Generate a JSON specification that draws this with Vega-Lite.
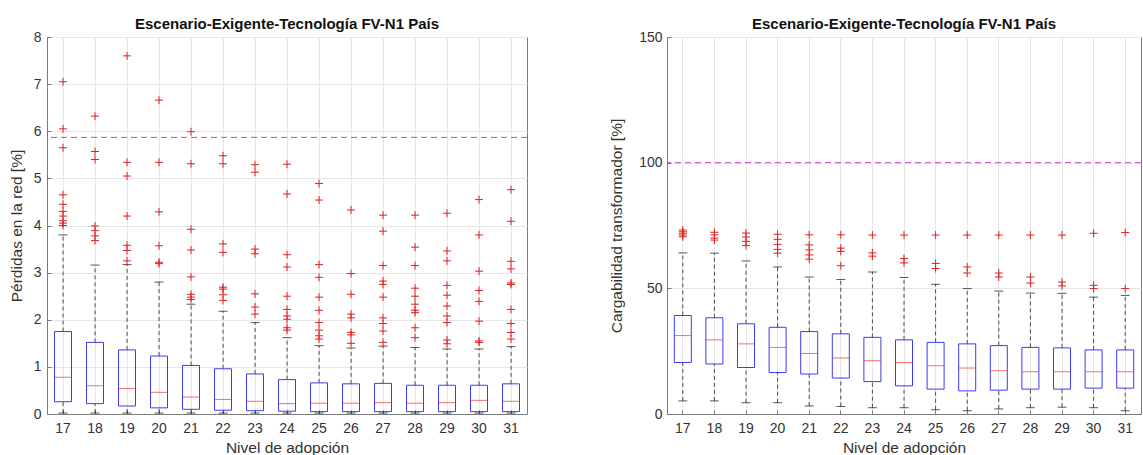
{
  "$schema": "https://vega.github.io/schema/vega-lite/v6.json",
  "padding": {"left": 8, "top": 16, "right": 2, "bottom": 0},
  "bounds": "flush",
  "spacing": 140,
  "config": {
    "font": "Liberation Sans",
    "view": {"stroke": "#7a7a7a", "strokeWidth": 1},
    "axis": {
      "domainColor": "#7a7a7a", "tickColor": "#7a7a7a", "tickSize": -4,
      "labelColor": "#333333", "labelFontSize": 14, "titleFontSize": 15.5,
      "titleFontWeight": "normal", "titleColor": "#333333", "gridColor": "#e6e6e6",
      "labelFont": "Liberation Sans", "titleFont": "Liberation Sans"
    },
    "title": {"fontSize": 15, "fontWeight": "bold", "color": "#111111", "offset": -2, "font": "Liberation Sans"}
  },
  "datasets": {
    "boxL": [
      {"nivel": 17, "lo": 0.02, "q1": 0.26, "med": 0.78, "q3": 1.75, "hi": 3.80},
      {"nivel": 18, "lo": 0.02, "q1": 0.22, "med": 0.60, "q3": 1.52, "hi": 3.16},
      {"nivel": 19, "lo": 0.02, "q1": 0.17, "med": 0.54, "q3": 1.36, "hi": 3.17},
      {"nivel": 20, "lo": 0.02, "q1": 0.13, "med": 0.46, "q3": 1.23, "hi": 2.80},
      {"nivel": 21, "lo": 0.02, "q1": 0.10, "med": 0.36, "q3": 1.03, "hi": 2.33},
      {"nivel": 22, "lo": 0.02, "q1": 0.08, "med": 0.31, "q3": 0.96, "hi": 2.18},
      {"nivel": 23, "lo": 0.02, "q1": 0.07, "med": 0.27, "q3": 0.85, "hi": 1.94},
      {"nivel": 24, "lo": 0.02, "q1": 0.06, "med": 0.22, "q3": 0.73, "hi": 1.62},
      {"nivel": 25, "lo": 0.02, "q1": 0.05, "med": 0.23, "q3": 0.66, "hi": 1.45},
      {"nivel": 26, "lo": 0.02, "q1": 0.05, "med": 0.23, "q3": 0.64, "hi": 1.40},
      {"nivel": 27, "lo": 0.02, "q1": 0.05, "med": 0.24, "q3": 0.65, "hi": 1.44},
      {"nivel": 28, "lo": 0.02, "q1": 0.05, "med": 0.23, "q3": 0.61, "hi": 1.41},
      {"nivel": 29, "lo": 0.02, "q1": 0.05, "med": 0.24, "q3": 0.61, "hi": 1.38},
      {"nivel": 30, "lo": 0.02, "q1": 0.05, "med": 0.29, "q3": 0.61, "hi": 1.38},
      {"nivel": 31, "lo": 0.02, "q1": 0.05, "med": 0.27, "q3": 0.64, "hi": 1.43}
    ],
    "outL": [
      {"nivel": 17, "v": 7.05}, {"nivel": 17, "v": 6.05}, {"nivel": 17, "v": 5.65}, {"nivel": 17, "v": 4.65}, {"nivel": 17, "v": 4.45}, {"nivel": 17, "v": 4.3}, {"nivel": 17, "v": 4.2}, {"nivel": 17, "v": 4.1}, {"nivel": 17, "v": 4.05}, {"nivel": 17, "v": 4.0},
      {"nivel": 18, "v": 6.32}, {"nivel": 18, "v": 5.57}, {"nivel": 18, "v": 5.40}, {"nivel": 18, "v": 3.99}, {"nivel": 18, "v": 3.89}, {"nivel": 18, "v": 3.78}, {"nivel": 18, "v": 3.68},
      {"nivel": 19, "v": 7.6}, {"nivel": 19, "v": 5.34}, {"nivel": 19, "v": 5.05}, {"nivel": 19, "v": 4.2}, {"nivel": 19, "v": 3.58}, {"nivel": 19, "v": 3.47}, {"nivel": 19, "v": 3.25},
      {"nivel": 20, "v": 6.66}, {"nivel": 20, "v": 5.34}, {"nivel": 20, "v": 4.29}, {"nivel": 20, "v": 3.57}, {"nivel": 20, "v": 3.22}, {"nivel": 20, "v": 3.19},
      {"nivel": 21, "v": 5.99}, {"nivel": 21, "v": 5.31}, {"nivel": 21, "v": 3.92}, {"nivel": 21, "v": 3.48}, {"nivel": 21, "v": 2.91}, {"nivel": 21, "v": 2.54}, {"nivel": 21, "v": 2.48}, {"nivel": 21, "v": 2.43},
      {"nivel": 22, "v": 5.48}, {"nivel": 22, "v": 5.31}, {"nivel": 22, "v": 3.61}, {"nivel": 22, "v": 3.43}, {"nivel": 22, "v": 2.69}, {"nivel": 22, "v": 2.65}, {"nivel": 22, "v": 2.53}, {"nivel": 22, "v": 2.41},
      {"nivel": 23, "v": 5.29}, {"nivel": 23, "v": 5.13}, {"nivel": 23, "v": 3.50}, {"nivel": 23, "v": 3.40}, {"nivel": 23, "v": 2.55}, {"nivel": 23, "v": 2.27}, {"nivel": 23, "v": 2.12},
      {"nivel": 24, "v": 5.30}, {"nivel": 24, "v": 4.67}, {"nivel": 24, "v": 3.38}, {"nivel": 24, "v": 3.12}, {"nivel": 24, "v": 2.50}, {"nivel": 24, "v": 2.22}, {"nivel": 24, "v": 2.08}, {"nivel": 24, "v": 2.01}, {"nivel": 24, "v": 1.83}, {"nivel": 24, "v": 1.78},
      {"nivel": 25, "v": 4.89}, {"nivel": 25, "v": 4.54}, {"nivel": 25, "v": 3.17}, {"nivel": 25, "v": 2.90}, {"nivel": 25, "v": 2.48}, {"nivel": 25, "v": 2.20}, {"nivel": 25, "v": 1.94}, {"nivel": 25, "v": 1.78}, {"nivel": 25, "v": 1.66}, {"nivel": 25, "v": 1.59},
      {"nivel": 26, "v": 4.33}, {"nivel": 26, "v": 2.98}, {"nivel": 26, "v": 2.54}, {"nivel": 26, "v": 2.12}, {"nivel": 26, "v": 2.04}, {"nivel": 26, "v": 1.73}, {"nivel": 26, "v": 1.68}, {"nivel": 26, "v": 1.50},
      {"nivel": 27, "v": 4.22}, {"nivel": 27, "v": 3.88}, {"nivel": 27, "v": 3.15}, {"nivel": 27, "v": 2.82}, {"nivel": 27, "v": 2.75}, {"nivel": 27, "v": 2.48}, {"nivel": 27, "v": 2.04}, {"nivel": 27, "v": 1.92}, {"nivel": 27, "v": 1.76}, {"nivel": 27, "v": 1.52},
      {"nivel": 28, "v": 4.22}, {"nivel": 28, "v": 3.54}, {"nivel": 28, "v": 3.15}, {"nivel": 28, "v": 2.67}, {"nivel": 28, "v": 2.50}, {"nivel": 28, "v": 2.33}, {"nivel": 28, "v": 2.20}, {"nivel": 28, "v": 2.15}, {"nivel": 28, "v": 1.83}, {"nivel": 28, "v": 1.62},
      {"nivel": 29, "v": 4.26}, {"nivel": 29, "v": 3.46}, {"nivel": 29, "v": 3.25}, {"nivel": 29, "v": 2.73}, {"nivel": 29, "v": 2.52}, {"nivel": 29, "v": 2.29}, {"nivel": 29, "v": 2.08}, {"nivel": 29, "v": 1.94}, {"nivel": 29, "v": 1.57}, {"nivel": 29, "v": 1.49},
      {"nivel": 30, "v": 4.55}, {"nivel": 30, "v": 3.80}, {"nivel": 30, "v": 3.03}, {"nivel": 30, "v": 2.62}, {"nivel": 30, "v": 2.39}, {"nivel": 30, "v": 1.97}, {"nivel": 30, "v": 1.55}, {"nivel": 30, "v": 1.52},
      {"nivel": 31, "v": 4.76}, {"nivel": 31, "v": 4.09}, {"nivel": 31, "v": 3.24}, {"nivel": 31, "v": 3.08}, {"nivel": 31, "v": 2.78}, {"nivel": 31, "v": 2.75}, {"nivel": 31, "v": 2.22}, {"nivel": 31, "v": 1.92}, {"nivel": 31, "v": 1.73}, {"nivel": 31, "v": 1.59}
    ],
    "boxR": [
      {"nivel": 17, "lo": 5.2, "q1": 20.5, "med": 31.2, "q3": 39.2, "hi": 64.1},
      {"nivel": 18, "lo": 5.2, "q1": 19.9, "med": 29.5, "q3": 38.3, "hi": 64.0},
      {"nivel": 19, "lo": 4.5, "q1": 18.5, "med": 27.9, "q3": 35.9, "hi": 60.9},
      {"nivel": 20, "lo": 4.5, "q1": 16.5, "med": 26.5, "q3": 34.5, "hi": 58.5},
      {"nivel": 21, "lo": 3.2, "q1": 15.9, "med": 24.1, "q3": 32.8, "hi": 54.5},
      {"nivel": 22, "lo": 3.0, "q1": 14.3, "med": 22.3, "q3": 31.9, "hi": 53.5},
      {"nivel": 23, "lo": 2.5, "q1": 12.9, "med": 21.2, "q3": 30.5, "hi": 56.5},
      {"nivel": 24, "lo": 2.5, "q1": 11.2, "med": 20.5, "q3": 29.5, "hi": 54.3},
      {"nivel": 25, "lo": 1.7, "q1": 9.9, "med": 19.2, "q3": 28.5, "hi": 51.6},
      {"nivel": 26, "lo": 1.3, "q1": 9.2, "med": 18.3, "q3": 27.9, "hi": 49.9},
      {"nivel": 27, "lo": 2.0, "q1": 9.5, "med": 17.2, "q3": 27.2, "hi": 48.9},
      {"nivel": 28, "lo": 2.5, "q1": 9.9, "med": 16.8, "q3": 26.5, "hi": 48.1},
      {"nivel": 29, "lo": 2.7, "q1": 9.9, "med": 16.8, "q3": 26.3, "hi": 48.0},
      {"nivel": 30, "lo": 2.5, "q1": 10.3, "med": 16.8, "q3": 25.5, "hi": 46.5},
      {"nivel": 31, "lo": 1.3, "q1": 10.3, "med": 16.8, "q3": 25.5, "hi": 47.2}
    ],
    "outR": [
      {"nivel": 17, "v": 73.2}, {"nivel": 17, "v": 72.5}, {"nivel": 17, "v": 71.9}, {"nivel": 17, "v": 71.2}, {"nivel": 17, "v": 70.5},
      {"nivel": 18, "v": 72.3}, {"nivel": 18, "v": 71.3}, {"nivel": 18, "v": 70.0}, {"nivel": 18, "v": 69.2},
      {"nivel": 19, "v": 72.0}, {"nivel": 19, "v": 70.4}, {"nivel": 19, "v": 68.7}, {"nivel": 19, "v": 67.0},
      {"nivel": 20, "v": 71.5}, {"nivel": 20, "v": 69.5}, {"nivel": 20, "v": 67.5}, {"nivel": 20, "v": 65.5}, {"nivel": 20, "v": 64.0},
      {"nivel": 21, "v": 71.3}, {"nivel": 21, "v": 67.3}, {"nivel": 21, "v": 65.3}, {"nivel": 21, "v": 63.3}, {"nivel": 21, "v": 61.6},
      {"nivel": 22, "v": 71.3}, {"nivel": 22, "v": 66.0}, {"nivel": 22, "v": 64.7}, {"nivel": 22, "v": 59.0},
      {"nivel": 23, "v": 71.2}, {"nivel": 23, "v": 64.1}, {"nivel": 23, "v": 62.8},
      {"nivel": 24, "v": 71.2}, {"nivel": 24, "v": 61.9}, {"nivel": 24, "v": 60.1},
      {"nivel": 25, "v": 71.2}, {"nivel": 25, "v": 59.9}, {"nivel": 25, "v": 57.9},
      {"nivel": 26, "v": 71.2}, {"nivel": 26, "v": 58.5}, {"nivel": 26, "v": 56.1},
      {"nivel": 27, "v": 71.2}, {"nivel": 27, "v": 56.1}, {"nivel": 27, "v": 54.5},
      {"nivel": 28, "v": 71.2}, {"nivel": 28, "v": 54.5}, {"nivel": 28, "v": 52.1},
      {"nivel": 29, "v": 71.2}, {"nivel": 29, "v": 52.5}, {"nivel": 29, "v": 51.0},
      {"nivel": 30, "v": 71.9}, {"nivel": 30, "v": 51.2}, {"nivel": 30, "v": 49.9},
      {"nivel": 31, "v": 72.2}, {"nivel": 31, "v": 49.9}
    ],
    "refL": [{"ref": 5.87}],
    "refR": [{"ref": 100}]
  },
  "hconcat": [
    {
      "width": 480, "height": 377,
      "title": {"text": "Escenario-Exigente-Tecnología FV-N1 País"},
      "layer": [
        {
          "data": {"name": "refL"},
          "mark": {"type": "rule", "color": "#cc44cc", "strokeDash": [6, 4], "strokeWidth": 1},
          "encoding": {"y": {"field": "ref", "type": "quantitative", "scale": {"domain": [0, 8], "nice": false},
            "axis": {"values": [0, 1, 2, 3, 4, 5, 6, 7, 8], "format": "d", "title": "Pérdidas en la red [%]", "minExtent": 20, "maxExtent": 20, "titlePadding": 3, "labelPadding": 10}}}
        },
        {
          "data": {"name": "boxL"},
          "mark": {"type": "rule", "color": "#222222", "strokeDash": [4, 3], "strokeWidth": 0.8},
          "encoding": {
            "x": {"field": "nivel", "type": "ordinal", "scale": {"domain": [17, 18, 19, 20, 21, 22, 23, 24, 25, 26, 27, 28, 29, 30, 31], "paddingInner": 0, "paddingOuter": 0},
              "axis": {"title": "Nivel de adopción", "labelAngle": 0, "bandPosition": 0.5, "grid": true, "labelPadding": 11, "titlePadding": 5}},
            "y": {"field": "q3", "type": "quantitative"}, "y2": {"field": "hi"}
          }
        },
        {
          "data": {"name": "boxL"},
          "mark": {"type": "rule", "color": "#222222", "strokeDash": [4, 3], "strokeWidth": 0.8},
          "encoding": {"x": {"field": "nivel", "type": "ordinal"}, "y": {"field": "lo", "type": "quantitative"}, "y2": {"field": "q1"}}
        },
        {
          "data": {"name": "boxL"},
          "mark": {"type": "tick", "color": "#111111", "size": 9, "thickness": 1},
          "encoding": {"x": {"field": "nivel", "type": "ordinal"}, "y": {"field": "hi", "type": "quantitative"}}
        },
        {
          "data": {"name": "boxL"},
          "mark": {"type": "tick", "color": "#111111", "size": 9, "thickness": 1},
          "encoding": {"x": {"field": "nivel", "type": "ordinal"}, "y": {"field": "lo", "type": "quantitative"}}
        },
        {
          "data": {"name": "boxL"},
          "mark": {"type": "bar", "width": 17, "fill": "#ffffff", "fillOpacity": 0, "stroke": "#3c3cf0", "strokeWidth": 1},
          "encoding": {"x": {"field": "nivel", "type": "ordinal"}, "y": {"field": "q1", "type": "quantitative"}, "y2": {"field": "q3"}}
        },
        {
          "data": {"name": "boxL"},
          "mark": {"type": "tick", "color": "#e83030", "size": 17, "thickness": 1},
          "encoding": {"x": {"field": "nivel", "type": "ordinal"}, "y": {"field": "med", "type": "quantitative"}}
        },
        {
          "data": {"name": "outL"},
          "mark": {"type": "point", "shape": "M-1,0L1,0M0,-1L0,1", "size": 64, "filled": false, "stroke": "#dd2222", "strokeWidth": 1, "opacity": 1},
          "encoding": {"x": {"field": "nivel", "type": "ordinal"}, "y": {"field": "v", "type": "quantitative"}}
        }
      ]
    },
    {
      "width": 474, "height": 377,
      "title": {"text": "Escenario-Exigente-Tecnología FV-N1 País"},
      "layer": [
        {
          "data": {"name": "refR"},
          "mark": {"type": "rule", "color": "#cc44cc", "strokeDash": [6, 4], "strokeWidth": 1},
          "encoding": {"y": {"field": "ref", "type": "quantitative", "scale": {"domain": [0, 150], "nice": false},
            "axis": {"values": [0, 50, 100, 150], "format": "d", "title": "Cargabilidad transformador [%]", "minExtent": 40, "maxExtent": 40, "titlePadding": 3, "labelPadding": 9}}}
        },
        {
          "data": {"name": "boxR"},
          "mark": {"type": "rule", "color": "#222222", "strokeDash": [4, 3], "strokeWidth": 0.8},
          "encoding": {
            "x": {"field": "nivel", "type": "ordinal", "scale": {"domain": [17, 18, 19, 20, 21, 22, 23, 24, 25, 26, 27, 28, 29, 30, 31], "paddingInner": 0, "paddingOuter": 0},
              "axis": {"title": "Nivel de adopción", "labelAngle": 0, "bandPosition": 0.5, "grid": true, "labelPadding": 11, "titlePadding": 5}},
            "y": {"field": "q3", "type": "quantitative"}, "y2": {"field": "hi"}
          }
        },
        {
          "data": {"name": "boxR"},
          "mark": {"type": "rule", "color": "#222222", "strokeDash": [4, 3], "strokeWidth": 0.8},
          "encoding": {"x": {"field": "nivel", "type": "ordinal"}, "y": {"field": "lo", "type": "quantitative"}, "y2": {"field": "q1"}}
        },
        {
          "data": {"name": "boxR"},
          "mark": {"type": "tick", "color": "#111111", "size": 9, "thickness": 1},
          "encoding": {"x": {"field": "nivel", "type": "ordinal"}, "y": {"field": "hi", "type": "quantitative"}}
        },
        {
          "data": {"name": "boxR"},
          "mark": {"type": "tick", "color": "#111111", "size": 9, "thickness": 1},
          "encoding": {"x": {"field": "nivel", "type": "ordinal"}, "y": {"field": "lo", "type": "quantitative"}}
        },
        {
          "data": {"name": "boxR"},
          "mark": {"type": "bar", "width": 17, "fill": "#ffffff", "fillOpacity": 0, "stroke": "#3c3cf0", "strokeWidth": 1},
          "encoding": {"x": {"field": "nivel", "type": "ordinal"}, "y": {"field": "q1", "type": "quantitative"}, "y2": {"field": "q3"}}
        },
        {
          "data": {"name": "boxR"},
          "mark": {"type": "tick", "color": "#e83030", "size": 17, "thickness": 1},
          "encoding": {"x": {"field": "nivel", "type": "ordinal"}, "y": {"field": "med", "type": "quantitative"}}
        },
        {
          "data": {"name": "outR"},
          "mark": {"type": "point", "shape": "M-1,0L1,0M0,-1L0,1", "size": 64, "filled": false, "stroke": "#dd2222", "strokeWidth": 1, "opacity": 1},
          "encoding": {"x": {"field": "nivel", "type": "ordinal"}, "y": {"field": "v", "type": "quantitative"}}
        }
      ]
    }
  ]
}
